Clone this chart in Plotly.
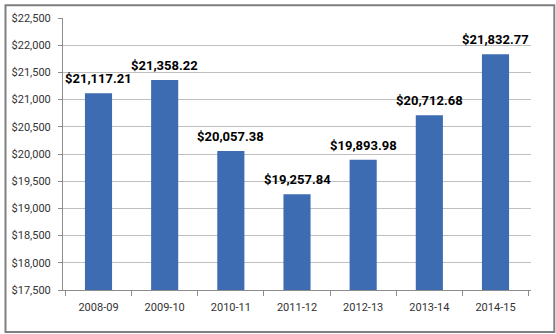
import plotly.graph_objects as go

categories = ["2008-09", "2009-10", "2010-11", "2011-12", "2012-13", "2013-14", "2014-15"]
values = [21117.21, 21358.22, 20057.38, 19257.84, 19893.98, 20712.68, 21832.77]
y_ticks = [17500, 18000, 18500, 19000, 19500, 20000, 20500, 21000, 21500, 22000, 22500]
y_tick_labels = ["$" + f"{v:,}" for v in y_ticks]
labels = ["$" + f"{v:,.2f}" for v in values]

W, H = 556, 334
L, R, T, B = 59, 25, 14, 44
pw, ph = W - L - R, H - T - B

fig = go.Figure(go.Bar(
    x=categories, y=values,
    marker=dict(color="#3d6cb3", line=dict(width=0)),
    cliponaxis=False,
))

for c, v, t in zip(categories, values, labels):
    fig.add_annotation(x=c, y=v, text=t, showarrow=False, yanchor="bottom",
                       yshift=5, font=dict(family="Roboto", size=13, color="#000000", weight="bold"))

def px_x(p):
    return (p - L) / pw

def px_y(p):
    return (H - B - p) / ph

fig.update_layout(
    width=W, height=H,
    margin=dict(l=L, r=R, t=T, b=B),
    paper_bgcolor="white", plot_bgcolor="white",
    bargap=0.59, showlegend=False,
    font=dict(family="Roboto", size=11, color="#333333"),
    xaxis=dict(type="category", showline=True, linecolor="#8c8c8c", linewidth=1,
               ticks="outside", tickson="boundaries", ticklen=5, tickcolor="#8c8c8c",
               ticklabelstandoff=7, showgrid=False),
    yaxis=dict(range=[17500, 22500], tickvals=y_ticks, ticktext=y_tick_labels,
               showline=True, linecolor="#8c8c8c", linewidth=1,
               ticks="outside", ticklen=4, tickcolor="#8c8c8c",
               gridcolor="#bfbfbf", gridwidth=1, ticklabelstandoff=5, zeroline=False),
    shapes=[dict(type="rect", xref="paper", yref="paper",
                 x0=px_x(1), x1=px_x(554.5), y0=px_y(332.5), y1=px_y(1),
                 line=dict(color="#7f7f7f", width=2), fillcolor="rgba(0,0,0,0)")],
)

fig.write_html("out.html")
